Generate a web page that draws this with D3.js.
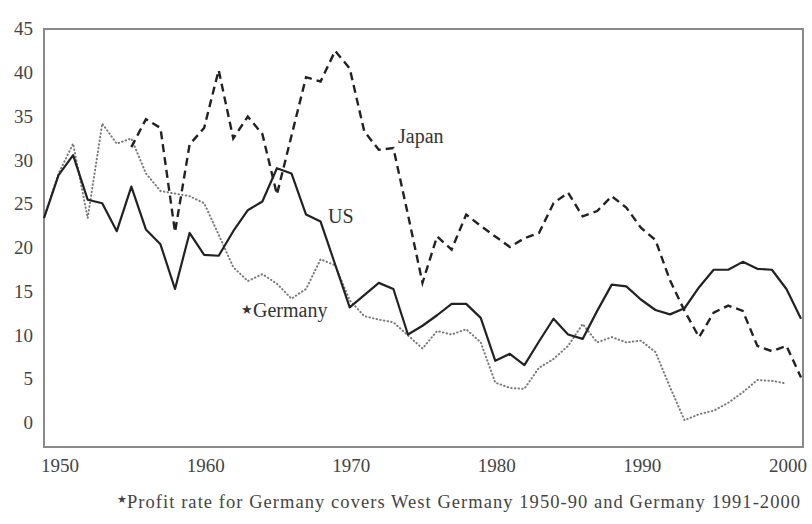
<!DOCTYPE html>
<html>
<head>
<meta charset="utf-8">
<script src="https://cdn.jsdelivr.net/npm/d3@7"></script>
<style>
  body { margin: 0; background: #fff; }
  svg { display: block; font-family: "Liberation Serif", "DejaVu Serif", serif; }
</style>
</head>
<body>
<svg id="chart"></svg>
<script>
// profit rates, %
const usYears = d3.range(1949, 2002);
const usValues = [23.4, 28.3, 30.6, 25.5, 25.1, 21.9, 27.0, 22.1, 20.4, 15.3,
  21.7, 19.2, 19.1, 21.9, 24.3, 25.3, 29.1, 28.5, 23.8, 23.0,
  18.1, 13.2, 14.6, 16.0, 15.3, 10.1, 11.1, 12.3, 13.6, 13.6,
  12.0, 7.1, 7.9, 6.6, 9.3, 11.9, 10.1, 9.6, 12.8, 15.8,
  15.6, 14.1, 12.9, 12.4, 13.1, 15.5, 17.5, 17.5, 18.4, 17.6,
  17.5, 15.3, 11.9];

const japanYears = d3.range(1955, 2002);
const japanValues = [31.5, 34.7, 33.7, 21.8, 31.8, 33.7, 40.3, 32.5, 35.0, 33.0,
  26.1, 32.8, 39.5, 39.0, 42.5, 40.5, 33.3, 31.2, 31.4, 23.8,
  16.0, 21.3, 19.8, 23.8, 22.5, 21.3, 20.1, 21.1, 21.7, 25.1,
  26.3, 23.6, 24.2, 25.9, 24.6, 22.3, 20.9, 16.3, 12.8, 9.8,
  12.6, 13.4, 12.8, 8.8, 8.2, 8.8, 5.2];

const germanyYears = d3.range(1949, 2001);
const germanyValues = [23.5, 28.5, 31.9, 23.4, 34.2, 31.9, 32.5, 28.5, 26.5, 26.2,
  25.9, 25.1, 21.5, 17.8, 16.2, 17.0, 15.9, 14.2, 15.3, 18.7,
  18.0, 14.0, 12.2, 11.8, 11.5, 10.0, 8.5, 10.5, 10.1, 10.7,
  9.2, 4.6, 4.0, 3.9, 6.3, 7.3, 8.8, 11.3, 9.2, 9.8,
  9.2, 9.4, 8.1, 4.1, 0.3, 1.0, 1.4, 2.3, 3.5, 4.9,
  4.8, 4.5];

const yTicks = [0, 5, 10, 15, 20, 25, 30, 35, 40, 45];
const xTicks = [1950, 1960, 1970, 1980, 1990, 2000];
const footnote = "Profit rate for Germany covers West Germany 1950-90 and Germany 1991-2000";

const width = 812, height = 524;
const frame = { left: 44, top: 29, right: 803, bottom: 447 };

const svg = d3.select("#chart")
  .attr("width", width)
  .attr("height", height);

const x = d3.scaleLinear().domain([1949, 2001]).range([44, 801]);
const y = d3.scaleLinear().domain([-2.75, 45]).range([frame.bottom, frame.top]);

// frame
svg.append("rect")
  .attr("x", frame.left)
  .attr("y", frame.top)
  .attr("width", frame.right - frame.left)
  .attr("height", frame.bottom - frame.top)
  .attr("fill", "none")
  .attr("stroke", "#8a8a8a")
  .attr("stroke-width", 2);

// axes (labels only)
const yAxis = svg.append("g")
  .attr("transform", "translate(33,0)")
  .call(d3.axisLeft(y).tickValues(yTicks).tickSize(0).tickPadding(0));
yAxis.select(".domain").remove();
yAxis.selectAll("text")
  .attr("font-family", "Liberation Serif, serif")
  .attr("font-size", 19)
  .attr("fill", "#444")
  .attr("dy", "0.3em");

const xAxis = svg.append("g")
  .attr("transform", `translate(1,${frame.bottom})`)
  .call(d3.axisBottom(x).tickValues(xTicks).tickFormat(d3.format("d")).tickSize(0).tickPadding(12));
xAxis.select(".domain").remove();
xAxis.selectAll("text")
  .attr("font-family", "Liberation Serif, serif")
  .attr("font-size", 19)
  .attr("fill", "#444");

const line = d3.line()
  .x(d => x(d[0]))
  .y(d => y(d[1]));

// Germany dotted
svg.append("path")
  .datum(d3.zip(germanyYears, germanyValues))
  .attr("d", line)
  .attr("fill", "none")
  .attr("stroke", "#7a7a7a")
  .attr("stroke-width", 2)
  .attr("stroke-linecap", "round")
  .attr("stroke-dasharray", "0.5,3.2");

// Japan dashed
svg.append("path")
  .datum(d3.zip(japanYears, japanValues))
  .attr("d", line)
  .attr("fill", "none")
  .attr("stroke", "#222")
  .attr("stroke-width", 2.4)
  .attr("stroke-dasharray", "8,5");

// US solid
svg.append("path")
  .datum(d3.zip(usYears, usValues))
  .attr("d", line)
  .attr("fill", "none")
  .attr("stroke", "#222")
  .attr("stroke-width", 2.2)
  .attr("stroke-linejoin", "round");

// series labels
const labels = svg.append("g")
  .attr("font-size", 20)
  .attr("fill", "#333");

labels.append("text").attr("x", 398).attr("y", 143).text("Japan");
labels.append("text").attr("x", 328).attr("y", 223).text("US");
const ger = labels.append("text").attr("x", 241).attr("y", 317);
ger.append("tspan").attr("font-size", 13).attr("dy", -3).text("★");
ger.append("tspan").attr("dy", 3).text("Germany");

// footnote
const note = svg.append("text")
  .attr("x", 117)
  .attr("y", 508)
  .attr("font-size", 18.5)
  .attr("fill", "#444");
note.append("tspan").attr("font-size", 11).attr("dy", -5).text("★");
note.append("tspan").attr("dy", 5)
  .attr("textLength", 673)
  .attr("lengthAdjust", "spacing")
  .text(footnote);
</script>
</body>
</html>
